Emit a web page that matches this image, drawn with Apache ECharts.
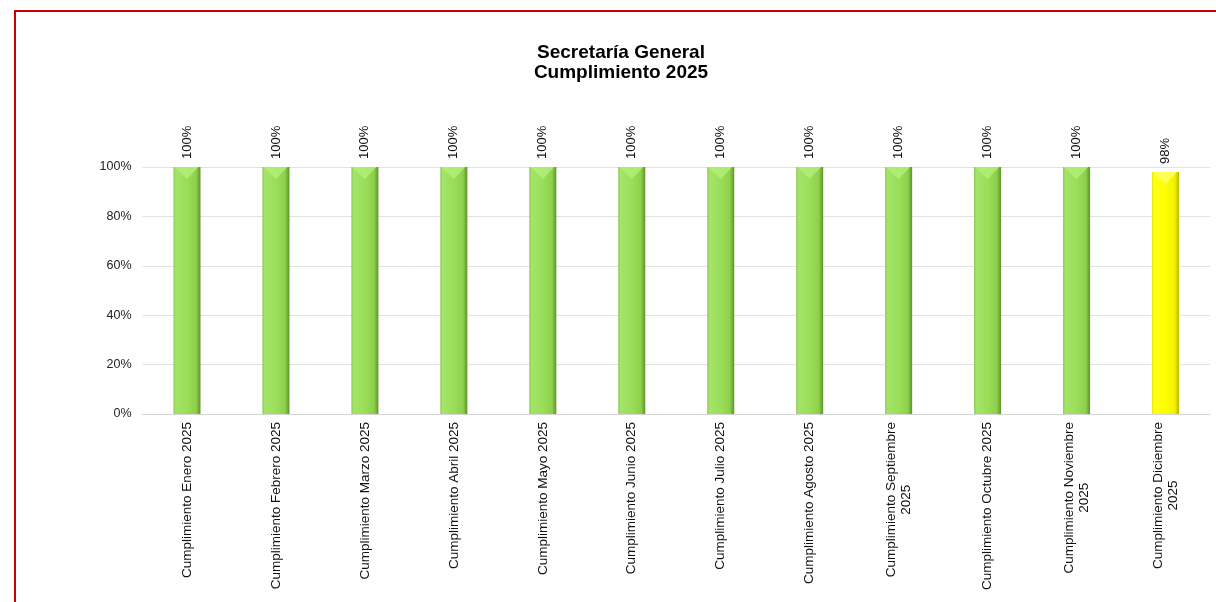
<!DOCTYPE html>
<html>
<head>
<meta charset="utf-8">
<script src="https://cdn.jsdelivr.net/npm/echarts@6/dist/echarts.min.js"></script>
<style>
html,body{margin:0;padding:0;background:#fff;}
#frame{position:absolute;left:14px;top:10px;right:-10px;bottom:-10px;border-left:2px solid #c80000;border-top:2px solid #c80000;}
#chart{position:absolute;left:0;top:0;width:1216px;height:602px;}
</style>
</head>
<body>
<div id="frame"></div>
<div id="chart"></div>
<script>
const titleText = 'Secretaría General\nCumplimiento 2025';
const categories = [
  'Cumplimiento Enero 2025',
  'Cumplimiento Febrero 2025',
  'Cumplimiento Marzo 2025',
  'Cumplimiento Abril 2025',
  'Cumplimiento Mayo 2025',
  'Cumplimiento Junio 2025',
  'Cumplimiento Julio 2025',
  'Cumplimiento Agosto 2025',
  'Cumplimiento Septiembre\n2025',
  'Cumplimiento Octubre 2025',
  'Cumplimiento Noviembre\n2025',
  'Cumplimiento Diciembre\n2025'
];
const values = [100, 100, 100, 100, 100, 100, 100, 100, 100, 100, 100, 98];
const yTicks = [0, 20, 40, 60, 80, 100];

const font = "'Liberation Sans', Arial, sans-serif";
const catFontSize = 13.5;
const catLineHeight = 15;

// measure text so multi-line category labels can be centred line by line
const mctx = document.createElement('canvas').getContext('2d');
mctx.font = catFontSize + 'px ' + font;
function tw(s) { return mctx.measureText(s).width; }

const rich = {c: {fontFamily: font, fontSize: catFontSize, color: '#111', lineHeight: catLineHeight}};
const catLabels = categories.map(function (cat, i) {
  const lines = cat.split('\n');
  const W = Math.max.apply(null, lines.map(tw));
  return lines.map(function (ln, j) {
    const pad = (W - tw(ln)) / 2;
    if (pad < 0.5) return '{c|' + ln + '}';
    const key = 'p' + i + '_' + j;
    rich[key] = {width: pad, fontFamily: font, fontSize: catFontSize, lineHeight: catLineHeight};
    return '{' + key + '| }{c|' + ln + '}{' + key + '| }';
  }).join('\n');
});

const greenGrad = new echarts.graphic.LinearGradient(0, 0, 1, 0, [
  {offset: 0, color: '#88c64c'},
  {offset: 0.08, color: '#a4e468'},
  {offset: 0.5, color: '#9ade5a'},
  {offset: 0.84, color: '#8ed04c'},
  {offset: 1, color: '#5c9428'}
]);
const yellowGrad = new echarts.graphic.LinearGradient(0, 0, 1, 0, [
  {offset: 0, color: '#e8e800'},
  {offset: 0.08, color: '#ffff18'},
  {offset: 0.5, color: '#ffff00'},
  {offset: 0.84, color: '#f2f200'},
  {offset: 1, color: '#b8b800'}
]);
const topGreen = '#b6f07c';
const topYellow = '#ffff70';

const chart = echarts.init(document.getElementById('chart'), null, {renderer: 'canvas'});

chart.setOption({
  animation: false,
  backgroundColor: 'transparent',
  title: {
    text: titleText,
    left: 616,
    top: 38,
    textAlign: 'center',
    textStyle: {fontFamily: font, fontSize: 19, fontWeight: 'bold', color: '#000', lineHeight: 20}
  },
  grid: {left: 142.5, right: 6, top: 167, bottom: 188, containLabel: false},
  xAxis: {
    type: 'category',
    data: categories,
    axisLine: {show: true, lineStyle: {color: '#d4d4d4', width: 1}},
    axisTick: {show: false},
    axisLabel: {
      interval: 0,
      rotate: 90,
      margin: 8,
      fontFamily: font,
      fontSize: catFontSize,
      color: '#111',
      formatter: function (v, idx) { return catLabels[idx]; },
      rich: rich
    }
  },
  yAxis: {
    type: 'value',
    min: 0,
    max: 100,
    interval: 20,
    axisLine: {show: false},
    axisTick: {show: false},
    splitLine: {lineStyle: {color: '#e2e2e2', width: 1}},
    axisLabel: {
      margin: 11,
      fontFamily: font,
      fontSize: 12.5,
      color: '#222',
      formatter: function (v) { return yTicks.indexOf(v) >= 0 ? v + '%' : ''; }
    }
  },
  series: [
    {
      type: 'bar',
      barWidth: 27,
      data: values.map(function (v) {
        return {value: v, itemStyle: {color: v >= 100 ? greenGrad : yellowGrad}};
      }),
      label: {
        show: true,
        position: 'top',
        rotate: 90,
        distance: 8,
        align: 'left',
        verticalAlign: 'middle',
        fontFamily: font,
        fontSize: 13,
        color: '#111',
        formatter: function (p) { return p.value + '%'; }
      },
      z: 2
    },
    {
      type: 'custom',
      data: values.map(function (v, i) { return [i, v]; }),
      z: 3,
      silent: true,
      renderItem: function (params, api) {
        const p = api.coord([api.value(0), api.value(1)]);
        const w = 27;
        const h = 12;
        const col = api.value(1) >= 100 ? topGreen : topYellow;
        return {
          type: 'polygon',
          shape: {points: [[p[0] - w / 2 + 1, p[1]], [p[0] + w / 2 - 2, p[1]], [p[0], p[1] + h]]},
          style: {fill: col, opacity: 0.75}
        };
      }
    }
  ]
});
</script>
</body>
</html>
